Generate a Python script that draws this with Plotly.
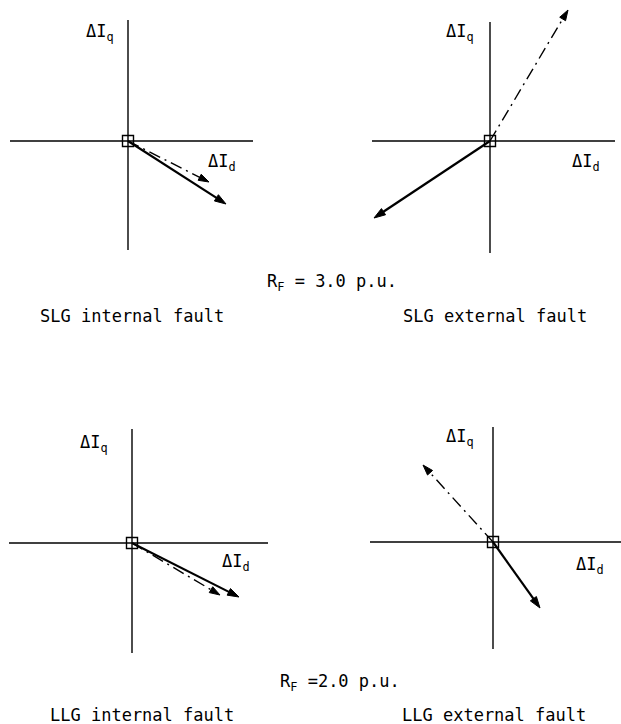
import plotly.graph_objects as go

W, H = 621, 724

# Change vectors (ΔId, ΔIq) in each phasor diagram
panels = ["SLG internal", "SLG external", "LLG internal", "LLG external"]
solid_d = [0.98, -1.16, 1.07, 0.47]
solid_q = [-0.63, -0.77, -0.54, -0.66]
dashdot_d = [0.81, 0.78, 0.88, -0.70]
dashdot_q = [-0.41, 1.31, -0.52, 0.77]

# Axis extents (ΔId left/right, ΔIq down/up) for each diagram
x_ranges = [[-1.18, 1.25], [-1.18, 1.25], [-1.23, 1.36], [-1.23, 1.28]]
y_ranges = [[-1.09, 1.21], [-1.12, 1.19], [-1.10, 1.14], [-1.07, 1.15]]

# Pixel box spanned by each pair of axes: (left, right, top, bottom)
boxes = [(10, 253, 20, 250), (372, 615, 22, 253), (9, 268, 429, 653), (370, 621, 427, 649)]
PAD = 16          # extra plotting room around the axes, px
UNIT = 100.0      # px per unit


def px(x):
    return x / W


def py(y):
    return 1 - y / H


fig = go.Figure()
INK = "#000000"
shapes = []

for i in range(4):
    n = "" if i == 0 else str(i + 1)
    xa, ya = "x" + n, "y" + n
    l, r, t, b = boxes[i]
    # origin position in px, and the plotting window around the axes
    ox = l - x_ranges[i][0] * UNIT
    oy = t + y_ranges[i][1] * UNIT
    dl, dr = max(0, l - PAD), min(W, r + PAD)
    dt, db = max(0, t - PAD), min(H, b + PAD)
    fig.update_layout({
        "xaxis" + n: dict(domain=[px(dl), px(dr)],
                          range=[(dl - ox) / UNIT, (dr - ox) / UNIT],
                          visible=False, anchor=ya),
        "yaxis" + n: dict(domain=[py(db), py(dt)],
                          range=[(oy - db) / UNIT, (oy - dt) / UNIT],
                          visible=False, anchor=xa),
    })
    # ΔId and ΔIq axes
    shapes.append(dict(type="line", xref=xa, yref=ya, x0=x_ranges[i][0], x1=x_ranges[i][1],
                       y0=0, y1=0, line=dict(color=INK, width=1.4), layer="below"))
    shapes.append(dict(type="line", xref=xa, yref=ya, x0=0, x1=0,
                       y0=y_ranges[i][0], y1=y_ranges[i][1], line=dict(color=INK, width=1.4),
                       layer="below"))
    # dash-dot vector
    fig.add_trace(go.Scatter(
        x=[0, dashdot_d[i]], y=[0, dashdot_q[i]], xaxis=xa, yaxis=ya,
        mode="lines+markers", hoverinfo="skip", showlegend=False, cliponaxis=False,
        line=dict(color=INK, width=1.4, dash="12px,5px,2px,5px"),
        marker=dict(symbol="arrow", size=[0, 11], angleref="previous", color=INK,
                    opacity=1, line=dict(color=INK, width=1)),
    ))
    # solid vector
    fig.add_trace(go.Scatter(
        x=[0, solid_d[i]], y=[0, solid_q[i]], xaxis=xa, yaxis=ya,
        mode="lines+markers", hoverinfo="skip", showlegend=False, cliponaxis=False,
        line=dict(color=INK, width=2.2),
        marker=dict(symbol="arrow", size=[0, 12], angleref="previous", color=INK,
                    opacity=1, line=dict(color=INK, width=1)),
    ))
    # origin marker
    fig.add_trace(go.Scatter(
        x=[0], y=[0], xaxis=xa, yaxis=ya, mode="markers", hoverinfo="skip",
        showlegend=False, cliponaxis=False,
        marker=dict(symbol="square-open", size=11, color=INK, line=dict(width=1.4, color=INK)),
    ))

label_font = dict(family="DejaVu Sans Mono", size=17, color=INK)
text_font = dict(family="DejaVu Sans Mono", size=17, color=INK)

annotations = []
# axis labels
iq_pos = [(100, 32), (460, 32), (94, 443), (460, 437)]
id_pos = [(222, 162), (586, 162), (236, 562), (590, 565)]
for (x, y) in iq_pos:
    annotations.append(dict(x=px(x), y=py(y), text="ΔI<sub>q</sub>", font=label_font))
for (x, y) in id_pos:
    annotations.append(dict(x=px(x), y=py(y), text="ΔI<sub>d</sub>", font=label_font))

# captions
captions = [
    (332, 283, "R<sub>F</sub> = 3.0 p.u."),
    (132, 316, "SLG internal fault"),
    (495, 316, "SLG external fault"),
    (340, 682, "R<sub>F</sub> =2.0 p.u."),
    (142, 715, "LLG internal fault"),
    (494, 715, "LLG external fault"),
]
for (x, y, s) in captions:
    annotations.append(dict(x=px(x), y=py(y), text=s, font=text_font))

for a in annotations:
    a.update(xref="paper", yref="paper", showarrow=False, xanchor="center", yanchor="middle")

fig.update_layout(
    template="none",
    width=W, height=H, margin=dict(l=0, r=0, t=0, b=0),
    paper_bgcolor="white", plot_bgcolor="white",
    font=dict(family="DejaVu Sans Mono", color=INK),
    annotations=annotations, shapes=shapes,
)

fig.write_html("out.html", config={"displayModeBar": False})
